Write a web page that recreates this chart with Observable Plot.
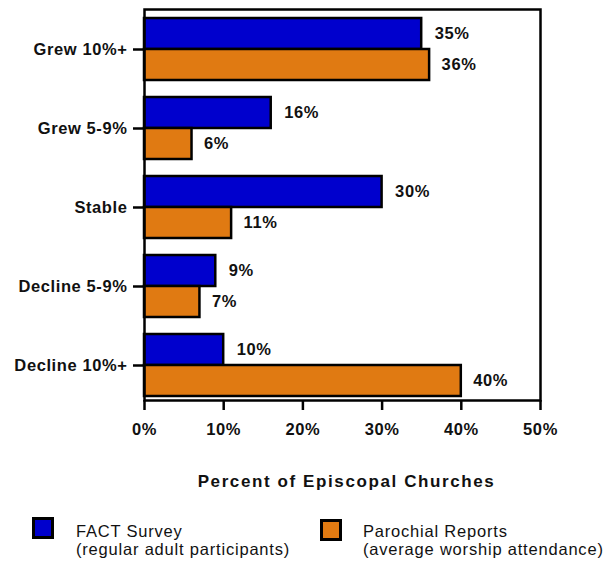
<!DOCTYPE html>
<html>
<head>
<meta charset="utf-8">
<script src="https://cdn.jsdelivr.net/npm/d3@7"></script>
<script src="https://cdn.jsdelivr.net/npm/@observablehq/plot@0.6"></script>
<style>
  body { margin: 0; background: #fff; }
  #wrap { position: relative; width: 616px; height: 561px; overflow: hidden; font-family: "Liberation Sans", Arial, sans-serif; }
  .sw { position: absolute; width: 22px; height: 22px; box-sizing: border-box; border: 3px solid #000; }
  .lt { position: absolute; font-size: 16.5px; line-height: 18px; letter-spacing: 0.8px; color: #111; white-space: nowrap; }
</style>
</head>
<body>
<div id="wrap"></div>
<script>
const categories = ["Grew 10%+", "Grew 5-9%", "Stable", "Decline 5-9%", "Decline 10%+"];
const factSurvey = [35, 16, 30, 9, 10];
const parochialReports = [36, 6, 11, 7, 40];
const xTicks = [0, 10, 20, 30, 40, 50];
const seriesNames = ["FACT Survey", "Parochial Reports"];
const seriesNotes = ["(regular adult participants)", "(average worship attendance)"];
const axisTitle = "Percent of Episcopal Churches";

const blue = "#0000cd";
const orange = "#e07a12";

const fact = categories.map((c, i) => ({cat: c, v: factSurvey[i]}));
const paro = categories.map((c, i) => ({cat: c, v: parochialReports[i]}));

const half = 31;

const chart = Plot.plot({
  width: 616,
  height: 505,
  marginLeft: 144,
  marginRight: 76,
  marginTop: 9,
  marginBottom: 105,
  style: {fontFamily: "'Liberation Sans', Arial, sans-serif", fontSize: "16.5px", fontWeight: "bold", letterSpacing: "0.6px", color: "#111", background: "#fff"},
  x: {domain: [0, 50], ticks: xTicks},
  y: {domain: categories, range: [9, 404], paddingInner: 0.218, paddingOuter: 0.101},
  marks: [
    Plot.barX(fact, {y: "cat", x1: 0, x2: "v", fill: blue, stroke: "#000", strokeWidth: 2.5, insetBottom: half}),
    Plot.barX(paro, {y: "cat", x1: 0, x2: "v", fill: orange, stroke: "#000", strokeWidth: 2.5, insetTop: half}),
    Plot.text(fact, {y: "cat", x: "v", text: d => d.v + "%", dx: 13, dy: -15.5, textAnchor: "start", fill: "#111", fontSize: 16.5, fontWeight: "bold"}),
    Plot.text(paro, {y: "cat", x: "v", text: d => d.v + "%", dx: 12, dy: 15.5, textAnchor: "start", fill: "#111", fontSize: 16.5, fontWeight: "bold"}),
    Plot.frame({stroke: "#000", strokeWidth: 2.5}),
    Plot.axisX({ticks: xTicks, tickFormat: d => d + "%", tickSize: 10, tickPadding: 13, strokeWidth: 2.5, stroke: "#000", label: null, fill: "#111"}),
    Plot.axisY({tickSize: 11, tickPadding: 6, strokeWidth: 2.5, stroke: "#000", label: null, fill: "#111"}),
    Plot.text([axisTitle], {frameAnchor: "bottom", text: d => d, dy: 86, dx: 4, fill: "#111", fontSize: 17, fontWeight: "bold", style: "letter-spacing:1.6px"})
  ]
});

const wrap = document.getElementById("wrap");
wrap.appendChild(chart);
chart.style.position = "absolute";
chart.style.left = "0px";
chart.style.top = "0px";

// widen the axis title's letter spacing
chart.querySelectorAll("text").forEach(t => {
  if (t.textContent === axisTitle) t.setAttribute("letter-spacing", "1.6");
});

const legend = [
  {color: blue, sx: 32, sy: 517, tx: 76},
  {color: orange, sx: 320, sy: 519, tx: 363}
];
legend.forEach((l, i) => {
  const s = document.createElement("div");
  s.className = "sw";
  s.style.left = l.sx + "px";
  s.style.top = l.sy + "px";
  s.style.background = l.color;
  wrap.appendChild(s);
  const t = document.createElement("div");
  t.className = "lt";
  t.style.left = l.tx + "px";
  t.style.top = "522px";
  t.innerHTML = seriesNames[i] + "<br>" + seriesNotes[i];
  wrap.appendChild(t);
});
</script>
</body>
</html>
